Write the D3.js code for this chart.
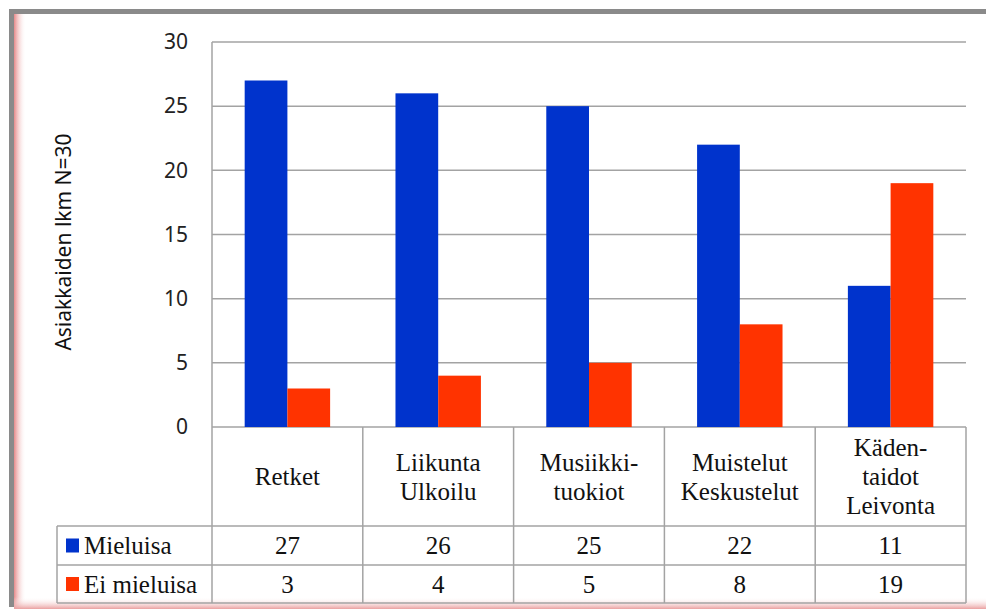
<!DOCTYPE html>
<html>
<head>
<meta charset="utf-8">
<script src="https://cdn.jsdelivr.net/npm/d3@7"></script>
<style>
  body { margin: 0; background: #fff; }
  .serif { font-family: "Liberation Serif", "Tinos", "Noto Serif", "DejaVu Serif", "FreeSerif", "Nimbus Roman", "Times", Georgia, serif; }
</style>
</head>
<body>
<div id="chart"></div>
<script>
// Chart data
const categories = ["Retket", "Liikunta\nUlkoilu", "Musiikki-\ntuokiot", "Muistelut\nKeskustelut", "Käden-\ntaidot\nLeivonta"];
const seriesNames = ["Mieluisa", "Ei mieluisa"];
const mieluisa = [27, 26, 25, 22, 11];
const eiMieluisa = [3, 4, 5, 8, 19];
const yTicks = [0, 5, 10, 15, 20, 25, 30];
const yTitle = "Asiakkaiden lkm N=30";
const colors = ["#0033cc", "#ff3300"];

const width = 986, height = 609;
const plot = { left: 212, right: 966, top: 42, bottom: 427 };
const table = { legendLeft: 57, headerBottom: 526, row1Bottom: 565, row2Bottom: 603 };
const gridColor = "#a3a3a3";

const svg = d3.select("#chart").append("svg")
    .attr("width", width)
    .attr("height", height);

const defs = svg.append("defs");
const leftGlow = defs.append("linearGradient").attr("id", "leftGlow")
    .attr("x1", 0).attr("x2", 1).attr("y1", 0).attr("y2", 0);
leftGlow.append("stop").attr("offset", 0).attr("stop-color", "#e68a8a");
leftGlow.append("stop").attr("offset", 1).attr("stop-color", "#fff").attr("stop-opacity", 0);
const bottomGlow = defs.append("linearGradient").attr("id", "bottomGlow")
    .attr("x1", 0).attr("x2", 0).attr("y1", 1).attr("y2", 0);
bottomGlow.append("stop").attr("offset", 0).attr("stop-color", "#eaa0a0");
bottomGlow.append("stop").attr("offset", 1).attr("stop-color", "#fff").attr("stop-opacity", 0);

// Frame
svg.append("rect").attr("x", 14).attr("y", 14).attr("width", width - 14).attr("height", height - 14).attr("fill", "#fff");
svg.append("rect").attr("x", 14).attr("y", 14).attr("width", 12).attr("height", height - 14).attr("fill", "url(#leftGlow)");
svg.append("rect").attr("x", 14).attr("y", 597).attr("width", width - 14).attr("height", 12).attr("fill", "url(#bottomGlow)");
svg.append("rect").attr("x", 9).attr("y", 9).attr("width", width - 9).attr("height", 5).attr("fill", "#8a8a8a");
svg.append("rect").attr("x", 9).attr("y", 9).attr("width", 5).attr("height", 598).attr("fill", "#8a8a8a");

// Scales
const x = d3.scaleBand()
    .domain(categories)
    .range([plot.left, plot.right])
    .paddingInner(0)
    .paddingOuter(0);

const xSeries = d3.scaleBand()
    .domain(seriesNames)
    .range([0, x.bandwidth()])
    .paddingInner(0)
    .paddingOuter(0.765);

const y = d3.scaleLinear()
    .domain([0, 30])
    .range([plot.bottom, plot.top]);

// Gridlines
svg.append("g").selectAll("line")
    .data(yTicks)
    .join("line")
    .attr("x1", plot.left)
    .attr("x2", plot.right)
    .attr("y1", d => y(d))
    .attr("y2", d => y(d))
    .attr("stroke", gridColor)
    .attr("stroke-width", 1.5);

// Y axis labels
const yAxis = d3.axisLeft(y).tickValues(yTicks).tickSize(0).tickPadding(24);
svg.append("g")
    .attr("transform", `translate(${plot.left}, 0)`)
    .call(yAxis)
    .call(g => g.select(".domain").remove())
    .call(g => g.selectAll("text")
        .attr("font-family", "'Noto Sans', sans-serif")
        .attr("font-size", 21)
        .attr("fill", "#222"));

svg.append("text")
    .attr("transform", `translate(71, 242) rotate(-90)`)
    .attr("text-anchor", "middle")
    .attr("font-family", "'Noto Sans', sans-serif")
    .attr("font-size", 21)
    .attr("fill", "#111")
    .text(yTitle);

// Bars
const rows = categories.map((c, i) => ({ category: c, values: [mieluisa[i], eiMieluisa[i]] }));
svg.append("g").selectAll("g")
    .data(rows)
    .join("g")
    .attr("transform", d => `translate(${x(d.category)}, 0)`)
    .selectAll("rect")
    .data(d => d.values.map((v, j) => ({ series: seriesNames[j], value: v, color: colors[j] })))
    .join("rect")
    .attr("x", d => xSeries(d.series))
    .attr("width", xSeries.bandwidth())
    .attr("y", d => y(d.value))
    .attr("height", d => y(0) - y(d.value))
    .attr("fill", d => d.color);

// Data table
const tbl = svg.append("g")
    .attr("fill", "none")
    .attr("stroke", gridColor)
    .attr("stroke-width", 1.5);

// vertical lines at category edges
const edges = categories.map(c => x(c)).concat([plot.right]);
tbl.selectAll("line.v")
    .data(edges)
    .join("line")
    .attr("class", "v")
    .attr("x1", d => d)
    .attr("x2", d => d)
    .attr("y1", (d, i) => i === 0 ? plot.top : plot.bottom)
    .attr("y2", table.row2Bottom);

tbl.append("line")
    .attr("x1", table.legendLeft).attr("x2", table.legendLeft)
    .attr("y1", table.headerBottom).attr("y2", table.row2Bottom);

tbl.selectAll("line.h")
    .data([table.headerBottom, table.row1Bottom, table.row2Bottom])
    .join("line")
    .attr("class", "h")
    .attr("x1", table.legendLeft)
    .attr("x2", plot.right)
    .attr("y1", d => d)
    .attr("y2", d => d);

const fontSize = 25;
const lineHeight = 29;

// category header labels
svg.append("g").selectAll("text")
    .data(categories)
    .join("text")
    .attr("class", "serif")
    .attr("x", d => x(d) + x.bandwidth() / 2)
    .attr("text-anchor", "middle")
    .attr("font-size", fontSize)
    .attr("fill", "#111")
    .each(function (d) {
        const lines = d.split("\n");
        const midY = (plot.bottom + table.headerBottom) / 2;
        const startY = midY - (lines.length - 1) * lineHeight / 2;
        d3.select(this).selectAll("tspan")
            .data(lines)
            .join("tspan")
            .attr("x", x(d) + x.bandwidth() / 2)
            .attr("y", (l, k) => startY + k * lineHeight)
            .attr("dy", "0.35em")
            .text(l => l);
    });

// rows with legend keys and values
const rowCenters = [(table.headerBottom + table.row1Bottom) / 2, (table.row1Bottom + table.row2Bottom) / 2];
const seriesData = [mieluisa, eiMieluisa];

seriesNames.forEach((name, j) => {
    const cy = rowCenters[j];
    svg.append("rect")
        .attr("x", 66)
        .attr("y", cy - 7)
        .attr("width", 13)
        .attr("height", 14)
        .attr("fill", colors[j]);
    svg.append("text")
        .attr("class", "serif")
        .attr("x", 84)
        .attr("y", cy)
        .attr("dy", "0.35em")
        .attr("font-size", fontSize)
        .attr("fill", "#111")
        .text(name);
    svg.append("g").selectAll("text")
        .data(seriesData[j])
        .join("text")
        .attr("class", "serif")
        .attr("x", (v, i) => x(categories[i]) + x.bandwidth() / 2)
        .attr("y", cy)
        .attr("dy", "0.35em")
        .attr("text-anchor", "middle")
        .attr("font-size", fontSize)
        .attr("fill", "#111")
        .text(v => v);
});
</script>
</body>
</html>
